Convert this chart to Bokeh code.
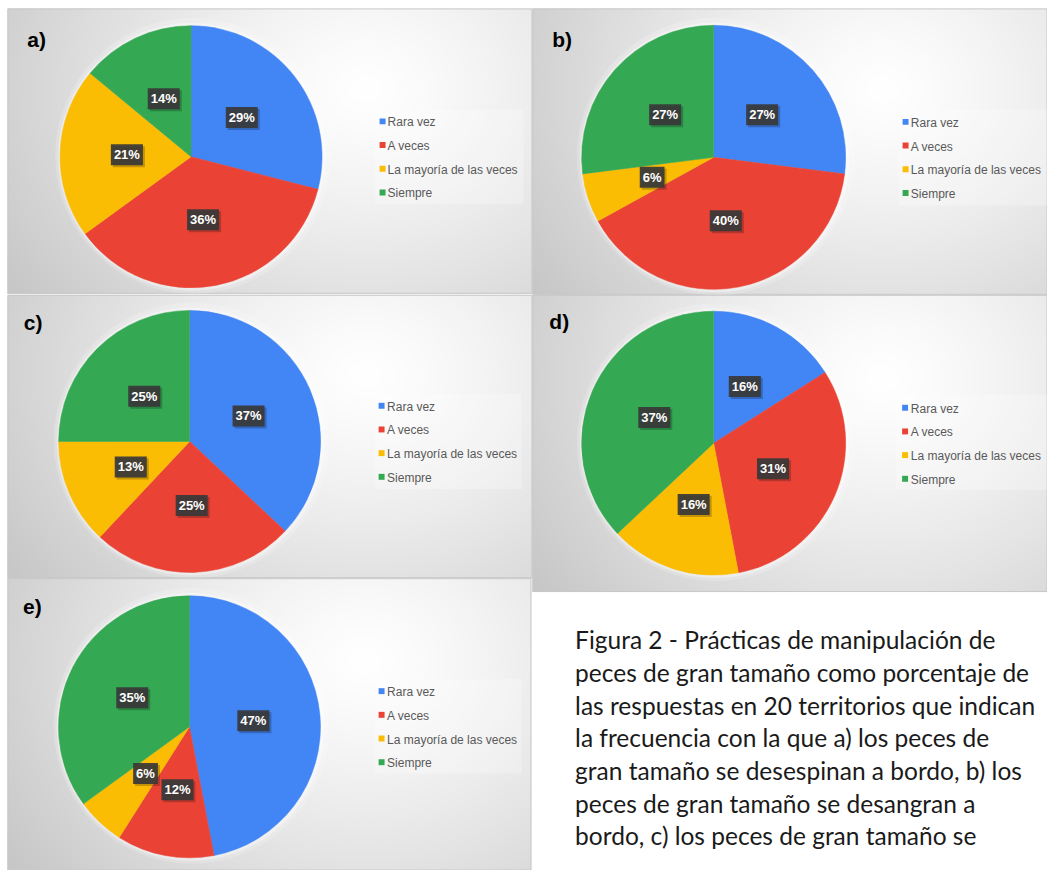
import numpy as np
from bokeh.plotting import figure
from bokeh.models import Range1d, ColumnDataSource
from bokeh.embed import file_html
from bokeh.resources import INLINE
from bokeh.core.properties import value

# ---------------- data ----------------
categories = ["Rara vez", "A veces", "La mayoría de las veces", "Siempre"]
colors = ["#4285F4", "#EA4335", "#FBBC04", "#34A853"]
panel_letters = ["a)", "b)", "c)", "d)", "e)"]
values_a = [29, 36, 21, 14]
values_b = [27, 40, 6, 27]
values_c = [37, 25, 13, 25]
values_d = [16, 31, 16, 37]
values_e = [47, 12, 6, 35]
all_values = [values_a, values_b, values_c, values_d, values_e]
caption_lines = [
    "Figura 2 - Prácticas de manipulación de",
    "peces de gran tamaño como porcentaje de",
    "las respuestas en 20 territorios que indican",
    "la frecuencia con la que a) los peces de",
    "gran tamaño se desespinan a bordo, b) los",
    "peces de gran tamaño se desangran a",
    "bordo, c) los peces de gran tamaño se",
]

# ---------------- layout (reference pixels, y downwards) ----------------
panel_boxes = [(7, 8, 536, 296), (536, 8, 1055, 297), (7, 297, 536, 583),
               (536, 297, 1055, 597), (7, 583, 535, 878)]
pie_centers = [(192, 157.7), (718.6, 158.3), (190.6, 445), (718.6, 446.7), (190.4, 733)]
pie_radius = [132, 133, 132, 133, 132]
letter_pos = [(27, 39), (556, 39), (23.5, 325), (553, 324), (22.7, 612)]
legend_sq_x = [385, 912, 384, 911.5, 384]
legend_tx_x = [390, 917.3, 389.5, 917.3, 389.5]
legend_y0 = [123, 123.5, 410, 412, 698]
legend_step = 23.9
legend_boxes = [(377, 110, 527, 205), (905, 110, 1055, 207), (377, 397, 525, 493),
                (902, 398, 1055, 494), (377, 685, 525, 780)]

W, H = 1047, 870
p = figure(width=W, height=H, x_range=Range1d(0, 1055), y_range=Range1d(-878, 0),
           output_backend="svg", toolbar_location=None, min_border=0,
           x_axis_location=None, y_axis_location=None)
p.grid.visible = False
p.outline_line_color = None
p.background_fill_color = "white"
p.border_fill_color = "white"


def gradient(w, h):
    yy, xx = np.mgrid[0:h, 0:w].astype(float)
    dx = (xx - 0.68 * w) / (0.70 * w)
    dy = (yy - 0.28 * h) / (1.05 * h)
    d = np.clip(np.sqrt(dx ** 2 + dy ** 2), 0, 1.2)
    c = np.clip(255 - 46 * d ** 1.25, 0, 255).astype(np.uint8)
    img = np.empty((h, w), dtype=np.uint32)
    view = img.view(dtype=np.uint8).reshape((h, w, 4))
    view[..., 0] = c
    view[..., 1] = c
    view[..., 2] = c
    view[..., 3] = 255
    return img[::-1]


# panel backgrounds
for (x0, y0, x1, y1) in panel_boxes:
    w, h = int(x1 - x0), int(y1 - y0)
    p.image_rgba(image=[gradient(w, h)], x=x0, y=-y1, dw=w, dh=h)

for (x0, y0, x1, y1) in panel_boxes:
    p.quad(left=x0 + 0.5, right=x1 - 0.5, top=-y0 - 0.5, bottom=-y1 + 0.5,
           fill_color=None, line_color="#c8c8c8", line_width=1)

# caption area (white)
p.quad(left=536, right=1056, top=-597.5, bottom=-879, fill_color="white", line_color=None)

for i, vals in enumerate(all_values):
    cx, cy = pie_centers[i]
    r = pie_radius[i]
    v = np.asarray(vals, float)
    frac = v / v.sum()
    cum_end = np.cumsum(frac)
    cum_start = cum_end - frac
    start = np.pi / 2 - 2 * np.pi * cum_end
    end = np.pi / 2 - 2 * np.pi * cum_start
    mid = (start + end) / 2

    # soft glow around the pie
    p.circle(x=[cx + 2], y=[-cy + 1], radius=r + 7, fill_color="white", fill_alpha=0.18, line_color=None)
    p.circle(x=[cx + 1], y=[-cy], radius=r + 3, fill_color="white", fill_alpha=0.35, line_color=None)

    src = ColumnDataSource(dict(start=start, end=end, color=colors, cat=categories))
    p.wedge(x=cx, y=-cy, radius=r, start_angle="start", end_angle="end",
            fill_color="color", line_color="color", line_width=0.5, source=src)

    lsrc = ColumnDataSource(dict(x=cx + 0.49 * r * np.cos(mid), y=-cy + 0.49 * r * np.sin(mid),
                                 t=[f"{int(x)}%" for x in vals]))
    # shadow of the label box
    p.text(x="x", y="y", text="t", source=lsrc, x_offset=2, y_offset=2,
           text_align="center", text_baseline="middle",
           text_font=value("Liberation Sans"), text_font_style="bold", text_font_size="13px",
           text_alpha=0, background_fill_color="black", background_fill_alpha=0.22, padding=3)
    p.text(x="x", y="y", text="t", source=lsrc,
           text_align="center", text_baseline="middle",
           text_font=value("Liberation Sans"), text_font_style="bold", text_font_size="13px",
           text_color="white", background_fill_color="#383838", background_fill_alpha=0.92, padding=3)

    # legend
    bx0, by0, bx1, by1 = legend_boxes[i]
    p.quad(left=bx0, right=bx1, top=-by0, bottom=-by1, fill_color="white", fill_alpha=0.25, line_color=None)
    ys = [-(legend_y0[i] + k * legend_step) for k in range(len(categories))]
    p.rect(x=[legend_sq_x[i]] * 4, y=[yy + 1 for yy in ys], width=6, height=6,
           fill_color=colors, line_color=None)
    p.text(x=[legend_tx_x[i]] * 4, y=ys, text=categories, text_align="left", text_baseline="middle",
           text_font=value("Liberation Sans"), text_font_size="12px", text_color="#595959")

    lx, ly = letter_pos[i]
    p.text(x=[lx], y=[-ly], text=[panel_letters[i]], text_align="left", text_baseline="alphabetic",
           text_font=value("Liberation Sans"), text_font_style="bold", text_font_size="21px",
           text_color="black")

# caption
cap_y = [-(645 + 33 * k) for k in range(len(caption_lines))]
p.text(x=[579] * len(caption_lines), y=cap_y, text=caption_lines, text_align="left",
       text_baseline="alphabetic", text_font=value("Lato"), text_font_size="24.5px",
       text_color="#1a1a1a")

open("out.html", "w").write(file_html(p, INLINE))
